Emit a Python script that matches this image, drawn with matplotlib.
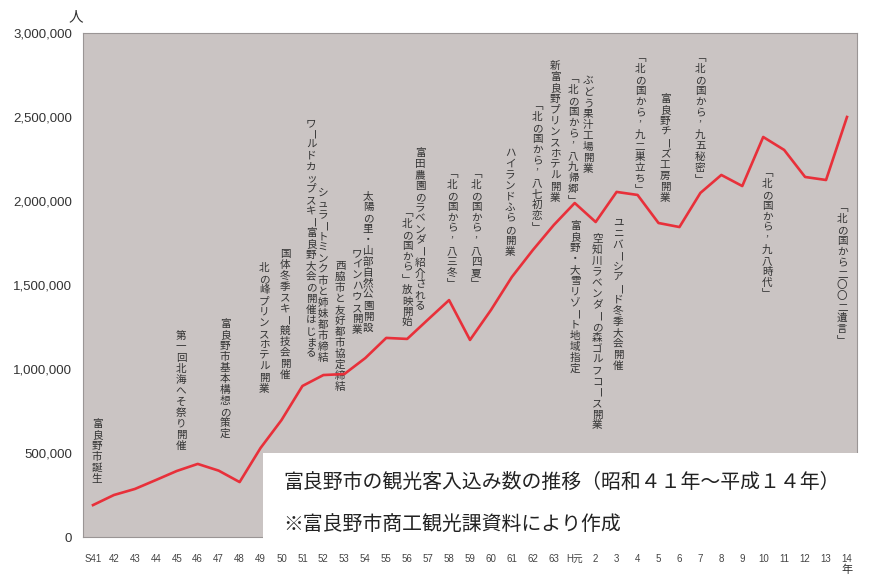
import matplotlib
matplotlib.use('Agg')
import matplotlib.pyplot as plt
from matplotlib.patches import Rectangle

plt.rcParams['font.family'] = ['Liberation Sans', 'Noto Sans CJK JP', 'DejaVu Sans']
JP = ['Noto Sans CJK JP', 'DejaVu Sans']

# 年度（昭和41年〜平成14年）
years = ['S41', '42', '43', '44', '45', '46', '47', '48', '49', '50',
         '51', '52', '53', '54', '55', '56', '57', '58', '59', '60',
         '61', '62', '63', 'H元', '2', '3', '4', '5', '6', '7',
         '8', '9', '10', '11', '12', '13', '14']

# 観光客入込み数（人）
visitors = [190000, 250000, 286000, 339000, 393000, 435000, 395000, 327000, 530000, 696000,
            899000, 964000, 970000, 1065000, 1185000, 1179000, 1295000, 1410000, 1173000, 1351000,
            1548000, 1708000, 1857000, 1988000, 1875000, 2054000, 2036000, 1869000, 1845000, 2048000,
            2155000, 2089000, 2381000, 2304000, 2143000, 2125000, 2500000]

yticks = [0, 500000, 1000000, 1500000, 2000000, 2500000, 3000000]

# 出来事（縦書き）
event_labels = [
    '富良野市誕生',
    '第一回北海へそ祭り開催',
    '富良野市基本構想の策定',
    '北の峰プリンスホテル開業',
    '国体冬季スキー競技会開催',
    'ワールドカップスキー富良野大会の開催はじまる',
    'シュラートミンク市と姉妹都市締結',
    '西脇市と友好都市協定締結',
    'ワインハウス開業',
    '太陽の里・山部自然公園開設',
    '「北の国から」放映開始',
    '富田農園のラベンダー紹介される',
    '「北の国から’八三冬」',
    '「北の国から’八四夏」',
    'ハイランドふらの開業',
    '「北の国から’八七初恋」',
    '新富良野プリンスホテル開業',
    '「北の国から’八九帰郷」',
    'ぶどう果汁工場開業',
    '富良野・大雪リゾート地域指定',
    '空知川ラベンダーの森ゴルフコース開業',
    'ユニバーシアード冬季大会開催',
    '「北の国から’九二巣立ち」',
    '富良野チーズ工房開業',
    '「北の国から’九五秘密」',
    '「北の国から’九八時代」',
    '「北の国から二〇〇二遺言」',
]

# 各ラベル先頭文字の位置（x: 年度の位置, y: 人数の目盛り）
event_pos = [
    (0.19, 673000), (4.20, 1196000), (6.30, 1268000), (8.17, 1601000),
    (9.17, 1685000), (10.41, 2464000), (10.98, 2048000), (11.80, 1613000),
    (12.61, 1690000), (13.13, 2030000), (15.00, 1929000), (15.62, 2286000),
    (17.14, 2161000), (18.29, 2161000), (19.91, 2286000), (21.20, 2565000),
    (22.06, 2804000), (22.92, 2726000), (23.64, 2714000), (23.02, 1851000),
    (24.07, 1774000), (25.07, 1869000), (26.12, 2851000), (27.32, 2607000),
    (28.99, 2851000), (32.19, 2167000), (35.77, 1958000),
]

# 縦書き用の字形
VERT = {'「': '\ufe41', '」': '\ufe42'}


def vtext(ax, x, y, s, step=7.9, size=7.6, color='#333333'):
    # 一文字ずつ下へ並べて縦書きにする
    for i, ch in enumerate(s):
        rot = -90 if ch in 'ー〜' else 0
        ax.annotate(VERT.get(ch, ch), xy=(x, y), xytext=(0, -i * step),
                    textcoords='offset points', ha='center', va='center',
                    rotation=rot, fontsize=size, color=color, family=JP, zorder=2)


W, H = 873, 576
fig = plt.figure(figsize=(W / 100, H / 100), dpi=100)
ax = fig.add_axes([83 / W, (H - 537) / H, (857 - 83) / W, (537 - 33) / H])
ax.set_facecolor('#cac4c3')

x = list(range(len(years)))
ax.plot(x, visitors, color='#e8303a', linewidth=1.9, zorder=3)

ax.set_xlim(-0.478, len(years) - 1 + 0.478)
ax.set_ylim(0, 3000000)
ax.set_xticks(x)
ax.set_xticklabels(years, fontsize=7, color='#444444')
ax.set_yticks(yticks)
ax.set_yticklabels([f'{v:,}' for v in yticks], fontsize=9.5, color='#333333')
ax.tick_params(axis='x', length=0, pad=12)
ax.tick_params(axis='y', length=0, pad=8)
for sp in ax.spines.values():
    sp.set_color('#9a9595')
    sp.set_linewidth(0.8)

for (ex, ey), label in zip(event_pos, event_labels):
    vtext(ax, ex, ey, label)

# 単位
fig.text(76 / W, 1 - 17 / H, '人', fontsize=10.5, ha='center', va='center',
         color='#333333', family=JP)
ax.annotate('年', xy=(len(years) - 1, 0), xytext=(0, -23.5), textcoords='offset points',
            ha='center', va='center', fontsize=8, color='#333333', family=JP)

# タイトル枠
fig.add_artist(Rectangle((263 / W, 1 - 542 / H), (W - 263) / W, (542 - 453) / H,
                         transform=fig.transFigure, facecolor='white',
                         edgecolor='none', zorder=5))
fig.text(283 / W, 1 - 482 / H, '富良野市の観光客入込み数の推移（昭和４１年〜平成１４年）',
         fontsize=14.3, ha='left', va='center', color='#222222', family=JP, zorder=6)
fig.text(283 / W, 1 - 524 / H, '※富良野市商工観光課資料により作成',
         fontsize=14.3, ha='left', va='center', color='#222222', family=JP, zorder=6)

fig.savefig('out.png', dpi=100)
